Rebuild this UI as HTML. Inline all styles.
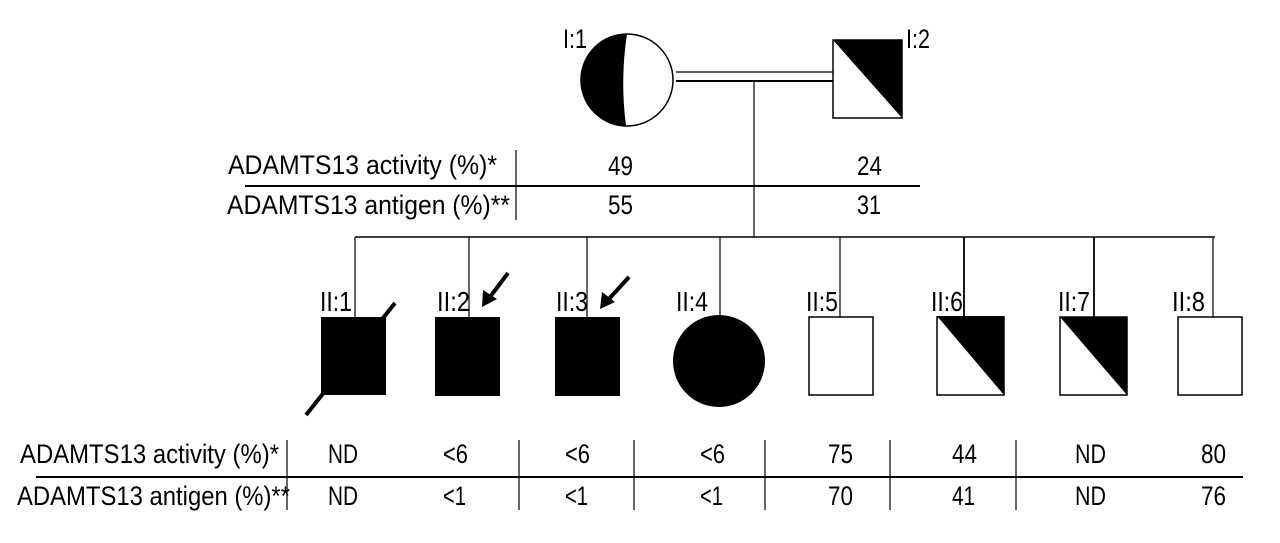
<!DOCTYPE html>
<html><head><meta charset="utf-8"><style>
html,body{margin:0;padding:0;background:#fff;}
svg{display:block;}
text{font-family:"Liberation Sans Narrow","Liberation Sans",sans-serif;fill:#000;}
</style></head><body>
<svg width="1280" height="543" viewBox="0 0 1280 543" xmlns="http://www.w3.org/2000/svg">
<g stroke="#000" fill="none">
<circle cx="627" cy="80" r="46" stroke-width="1.5" fill="#fff"/>
<path d="M627,34 Q620,80 626,126 A46,46 0 0 1 627,34 Z" fill="#000" stroke="none"/>
<line x1="676" y1="72" x2="833" y2="72" stroke-width="1.2"/>
<line x1="676" y1="81" x2="833" y2="81" stroke-width="2"/>
<rect x="833" y="40" width="69" height="78" stroke-width="1.5" fill="#fff"/>
<polygon points="833,40 902,40 902,118" fill="#000" stroke="none"/>
<line x1="754" y1="82" x2="754" y2="237" stroke-width="1.2"/>
<line x1="516" y1="150" x2="516" y2="220" stroke-width="1.2"/>
<line x1="245" y1="186" x2="920" y2="186" stroke-width="2"/>
<line x1="355" y1="237" x2="1215" y2="237" stroke-width="1.5"/>
<line x1="355" y1="237" x2="355" y2="317" stroke-width="1.2"/>
<line x1="469" y1="237" x2="469" y2="317" stroke-width="1.2"/>
<line x1="587" y1="237" x2="587" y2="317" stroke-width="1.2"/>
<line x1="720" y1="237" x2="720" y2="316" stroke-width="1.2"/>
<line x1="840" y1="237" x2="840" y2="317" stroke-width="1.2"/>
<line x1="964" y1="237" x2="964" y2="316" stroke-width="1.8"/>
<line x1="1094" y1="237" x2="1094" y2="317" stroke-width="1.8"/>
<line x1="1213" y1="237" x2="1213" y2="317" stroke-width="1.2"/>
<rect x="321" y="317" width="65" height="78" fill="#000" stroke="none"/>
<line x1="306" y1="415" x2="395" y2="303" stroke-width="4"/>
<rect x="435" y="317" width="65" height="79" fill="#000" stroke="none"/>
<rect x="555" y="317" width="65" height="79" fill="#000" stroke="none"/>
<circle cx="719" cy="361" r="46" fill="#000" stroke="none"/>
<rect x="809" y="317" width="64" height="78" stroke-width="1.5" fill="#fff"/>
<rect x="937" y="317" width="67" height="78" stroke-width="1.5" fill="#fff"/>
<polygon points="937,316 1004,316 1004,395" fill="#000" stroke="none"/>
<rect x="1060" y="317" width="67" height="78" stroke-width="1.5" fill="#fff"/>
<polygon points="1060,317 1127,317 1127,395" fill="#000" stroke="none"/>
<rect x="1178" y="317" width="64" height="78" stroke-width="1.5" fill="#fff"/>
<line x1="508" y1="273" x2="490" y2="297" stroke-width="4"/>
<polygon points="482,307 483,290 497,299" fill="#000" stroke="none"/>
<line x1="629" y1="277" x2="608" y2="300" stroke-width="4"/>
<polygon points="600,309 602,292 615,302" fill="#000" stroke="none"/>
<line x1="36" y1="477" x2="1243" y2="477" stroke-width="2"/>
<g stroke-width="1.2">
<line x1="287" y1="440" x2="287" y2="510"/>
<line x1="519" y1="440" x2="519" y2="510"/>
<line x1="634" y1="440" x2="634" y2="510"/>
<line x1="765" y1="440" x2="765" y2="510"/>
<line x1="890" y1="440" x2="890" y2="510"/>
<line x1="1016" y1="440" x2="1016" y2="510"/>
</g>
</g>
<g font-size="27">
<text x="563" y="48" textLength="24" lengthAdjust="spacingAndGlyphs">I:1</text>
<text x="906" y="48" textLength="24" lengthAdjust="spacingAndGlyphs">I:2</text>
<text x="228" y="174" textLength="269" lengthAdjust="spacingAndGlyphs">ADAMTS13 activity (%)*</text>
<text x="227" y="214" textLength="283" lengthAdjust="spacingAndGlyphs">ADAMTS13 antigen (%)**</text>
<text x="20" y="463" textLength="259" lengthAdjust="spacingAndGlyphs">ADAMTS13 activity (%)*</text>
<text x="17" y="505" textLength="273" lengthAdjust="spacingAndGlyphs">ADAMTS13 antigen (%)**</text>
</g>
<g font-size="27" lengthAdjust="spacingAndGlyphs">
<text x="608" y="175" textLength="25" lengthAdjust="spacingAndGlyphs">49</text><text x="857" y="175" textLength="25" lengthAdjust="spacingAndGlyphs">24</text>
<text x="608" y="214" textLength="25" lengthAdjust="spacingAndGlyphs">55</text><text x="857" y="214" textLength="24" lengthAdjust="spacingAndGlyphs">31</text>
<text x="328" y="463" textLength="30" lengthAdjust="spacingAndGlyphs">ND</text><text x="443" y="463" textLength="25" lengthAdjust="spacingAndGlyphs">&lt;6</text><text x="565" y="463" textLength="25" lengthAdjust="spacingAndGlyphs">&lt;6</text><text x="700" y="463" textLength="25" lengthAdjust="spacingAndGlyphs">&lt;6</text>
<text x="828" y="463" textLength="25" lengthAdjust="spacingAndGlyphs">75</text><text x="952" y="463" textLength="25" lengthAdjust="spacingAndGlyphs">44</text><text x="1075" y="463" textLength="31" lengthAdjust="spacingAndGlyphs">ND</text><text x="1201" y="463" textLength="25" lengthAdjust="spacingAndGlyphs">80</text>
<text x="328" y="505" textLength="30" lengthAdjust="spacingAndGlyphs">ND</text><text x="443" y="505" textLength="23" lengthAdjust="spacingAndGlyphs">&lt;1</text><text x="565" y="505" textLength="23" lengthAdjust="spacingAndGlyphs">&lt;1</text><text x="700" y="505" textLength="23" lengthAdjust="spacingAndGlyphs">&lt;1</text>
<text x="828" y="505" textLength="25" lengthAdjust="spacingAndGlyphs">70</text><text x="952" y="505" textLength="23" lengthAdjust="spacingAndGlyphs">41</text><text x="1075" y="505" textLength="31" lengthAdjust="spacingAndGlyphs">ND</text><text x="1201" y="505" textLength="25" lengthAdjust="spacingAndGlyphs">76</text>
</g>
<g font-size="28">
<text x="320" y="311" textLength="32" lengthAdjust="spacingAndGlyphs">II:1</text>
<text x="437" y="311" textLength="33" lengthAdjust="spacingAndGlyphs">II:2</text>
<text x="556" y="311" textLength="32" lengthAdjust="spacingAndGlyphs">II:3</text>
<text x="676" y="311" textLength="32" lengthAdjust="spacingAndGlyphs">II:4</text>
<text x="806" y="311" textLength="32" lengthAdjust="spacingAndGlyphs">II:5</text>
<text x="931" y="311" textLength="32" lengthAdjust="spacingAndGlyphs">II:6</text>
<text x="1058" y="311" textLength="32" lengthAdjust="spacingAndGlyphs">II:7</text>
<text x="1172" y="311" textLength="33" lengthAdjust="spacingAndGlyphs">II:8</text>
</g>
</svg>
</body></html>
